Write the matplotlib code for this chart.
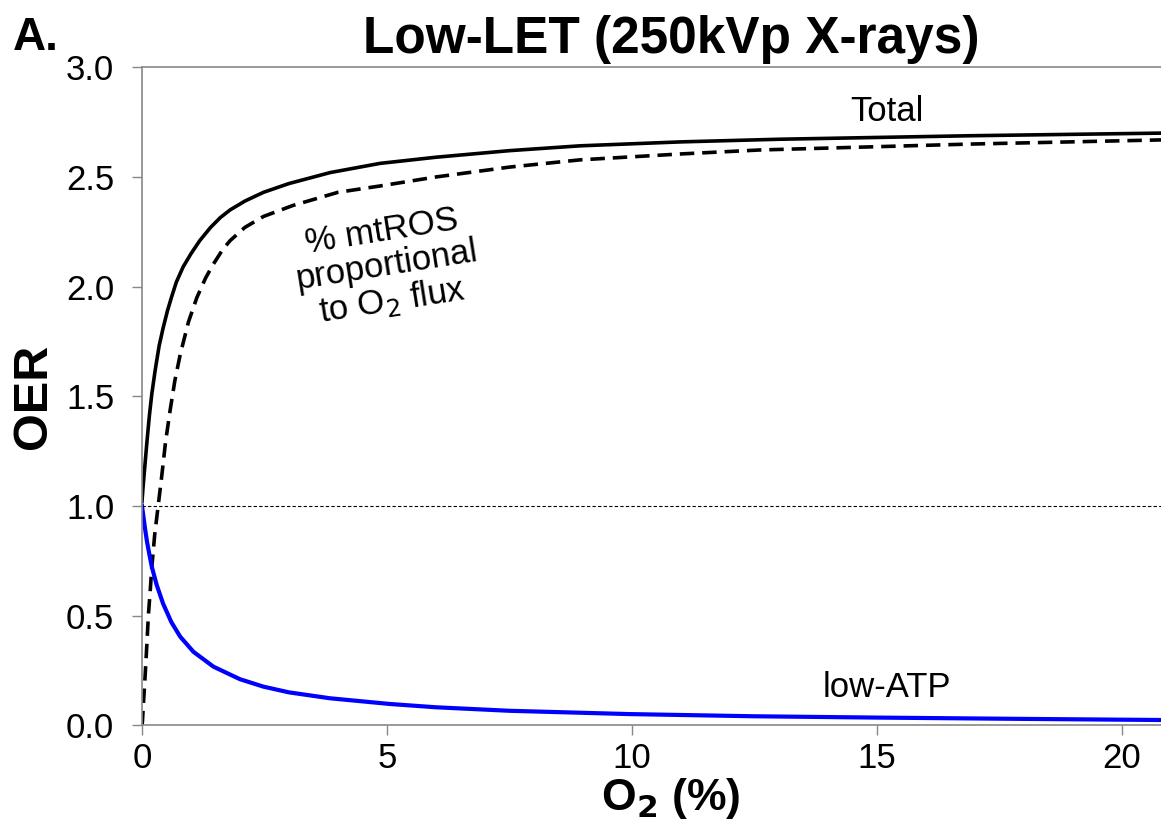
import matplotlib.pyplot as plt

plt.rcParams['font.family'] = ['Liberation Sans', 'DejaVu Sans']

# O2 (%) vs OER
x_total = [0.0, 0.02, 0.05, 0.1, 0.15, 0.2, 0.27, 0.35, 0.43, 0.52, 0.6, 0.7,
           0.84, 1.0, 1.18, 1.4, 1.6, 1.8, 2.1, 2.48, 3.0, 3.84, 4.86, 6.0,
           7.5, 8.94, 11.0, 13.0, 16.9, 20.8, 21.6]
y_total = [1.02, 1.08, 1.16, 1.29, 1.41, 1.51, 1.62, 1.73, 1.81, 1.89, 1.95,
           2.02, 2.09, 2.15, 2.21, 2.27, 2.315, 2.35, 2.39, 2.43, 2.47, 2.52,
           2.562, 2.59, 2.62, 2.642, 2.66, 2.672, 2.688, 2.70, 2.702]

x_mtros = [0.0, 0.01, 0.03, 0.06, 0.1, 0.13, 0.17, 0.2, 0.26, 0.33, 0.40,
           0.48, 0.57, 0.67, 0.78, 0.95, 1.12, 1.3, 1.45, 1.65, 1.8, 2.1,
           2.48, 3.08, 4.0, 4.86, 6.0, 7.5, 8.94, 11.0, 12.6, 16.9, 20.8, 21.6]
y_mtros = [0.0, 0.02, 0.10, 0.21, 0.37, 0.50, 0.62, 0.72, 0.87, 1.00, 1.13,
           1.29, 1.43, 1.57, 1.69, 1.84, 1.95, 2.04, 2.10, 2.17, 2.21, 2.27,
           2.32, 2.37, 2.43, 2.459, 2.50, 2.545, 2.578, 2.605, 2.623, 2.65,
           2.669, 2.672]

x_atp = [0.0, 0.03, 0.06, 0.1, 0.15, 0.2, 0.3, 0.43, 0.6, 0.78, 1.05, 1.46,
         2.0, 2.48, 3.0, 3.84, 5.06, 6.0, 7.5, 9.94, 12.5, 15.0, 18.0, 20.8,
         21.6]
y_atp = [1.0, 0.95, 0.90, 0.84, 0.78, 0.723, 0.64, 0.555, 0.47, 0.404, 0.335,
         0.267, 0.21, 0.176, 0.15, 0.123, 0.097, 0.082, 0.066, 0.051, 0.041,
         0.035, 0.029, 0.024, 0.023]

fig = plt.figure(figsize=(11.61, 8.25), dpi=100)
# axes run past the right edge of the picture, as in the reference crop
ax = fig.add_axes([0.1223, 0.1209, 0.9113, 0.7975])

ax.plot(x_total, y_total, color='black', lw=2.6)
ax.plot(x_mtros, y_mtros, color='black', lw=2.6, dashes=(4, 2.2))
ax.plot(x_atp, y_atp, color='#0000ff', lw=3.0)
ax.axhline(1.0, color='black', lw=0.8, dashes=(3, 2))

ax.set_xlim(0, 21.6)
ax.set_ylim(0, 3.0)
ax.set_xticks([0, 5, 10, 15, 20])
ax.set_yticks([0, 0.5, 1.0, 1.5, 2.0, 2.5, 3.0])
ax.set_yticklabels(['0.0', '0.5', '1.0', '1.5', '2.0', '2.5', '3.0'])

for s in ['left', 'bottom', 'top']:
    ax.spines[s].set_color('#888888')
    ax.spines[s].set_linewidth(1.2)
ax.spines['right'].set_visible(False)
ax.tick_params(direction='out', length=7, width=1, color='#888888',
               labelsize=25)
ax.tick_params(axis='y', pad=13)
ax.tick_params(axis='x', pad=5)

ax.set_ylabel('OER', fontsize=35, fontweight='bold', labelpad=7)
ax.set_xlabel('O$_\\mathbf{2}$ (%)', fontsize=32, fontweight='bold', labelpad=1)
fig.text(0.578, 0.936, 'Low-LET (250kVp X-rays)', fontsize=37,
         fontweight='bold', ha='center', va='baseline')
fig.text(0.011, 0.94, 'A.', fontsize=33, fontweight='bold')

ax.text(15.2, 2.8, 'Total', fontsize=25, ha='center', va='center')
ax.text(15.2, 0.17, 'low-ATP', fontsize=25, ha='center', va='center')
ax.text(5.0, 2.09, '% mtROS\nproportional\nto O$_2$ flux', fontsize=25,
        ha='center', va='center', rotation=9, linespacing=1.05)

fig.savefig('out.png', dpi=100)
